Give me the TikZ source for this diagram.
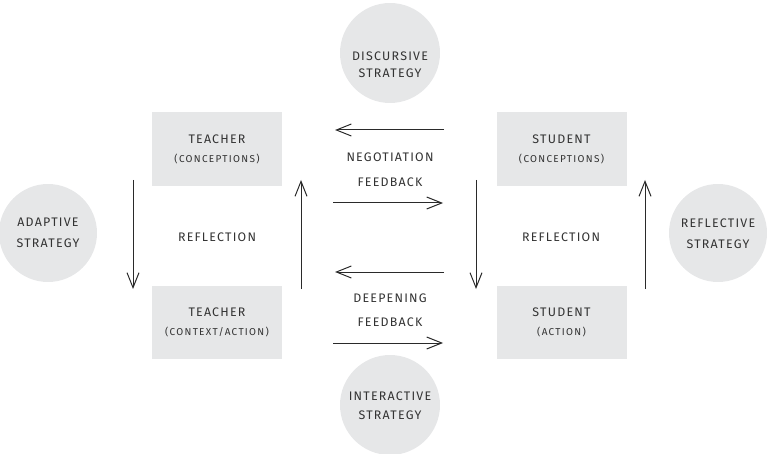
\documentclass[tikz,border=0pt]{standalone}
\usepackage{fontspec}
\setmainfont{Fira Sans}[LetterSpace=10]
\newfontfamily\smallsp{Fira Sans}[LetterSpace=13]
\usetikzlibrary{arrows.meta}
\definecolor{boxgray}{HTML}{E6E7E8}
\definecolor{ink}{HTML}{333333}
\definecolor{arrowink}{HTML}{2A2A2A}
\tikzset{
  stagebox/.style={fill=boxgray, draw=none, minimum width=130pt, minimum height=74pt, inner sep=0pt, align=center, text=ink, font=\fontsize{12.4}{19}\selectfont},
  stratcirc/.style={circle, fill=boxgray, draw=none, minimum size=100pt, inner sep=0pt},
  lbl/.style={text=ink, font=\fontsize{12.4}{13}\selectfont, inner sep=0pt, align=center},
  flow/.style={draw=arrowink, line width=1pt, -{Straight Barb[length=15pt,width=12pt]}}
}
\newcommand{\sm}[1]{{\smallsp\fontsize{10}{11}\selectfont #1}}
\begin{document}
\begin{tikzpicture}[x=1pt,y=-1pt]
\useasboundingbox (0,0) rectangle (767,454);
% strategy circles
\node[stratcirc] (disc) at (390,53) {};
\node[lbl, font=\fontsize{12.4}{17}\selectfont] (disct) at (390,65) {DISCURSIVE\\STRATEGY};
\node[stratcirc, minimum size=98pt] (adap) at (48,233) {};
\node[lbl, font=\fontsize{12.4}{21}\selectfont] (adapt) at (48,233) {ADAPTIVE\\STRATEGY};
\node[stratcirc, minimum size=98pt] (refl) at (718,233) {};
\node[lbl, font=\fontsize{12.4}{21}\selectfont] (reflt) at (718,234) {REFLECTIVE\\STRATEGY};
\node[stratcirc] (inter) at (390,405) {};
\node[lbl, font=\fontsize{12.4}{19}\selectfont] (intert) at (390,406) {INTERACTIVE\\STRATEGY};
% boxes
\node[stagebox] (tc) at (217,149) {TEACHER\\\sm{(CONCEPTIONS)}};
\node[stagebox] (sc) at (561.5,149) {STUDENT\\\sm{(CONCEPTIONS)}};
\node[stagebox, minimum height=73pt] (ta) at (217,322.5) {TEACHER\\\sm{(CONTEXT/ACTION)}};
\node[stagebox, minimum height=73pt] (sa) at (561.5,322.5) {STUDENT\\\sm{(ACTION)}};
% labels
\node[lbl] (neg) at (390,157) {NEGOTIATION};
\node[lbl] (fb1) at (390,182) {FEEDBACK};
\node[lbl] (deep) at (390,298) {DEEPENING};
\node[lbl] (fb2) at (390,322) {FEEDBACK};
\node[lbl] (rl) at (217,237) {REFLECTION};
\node[lbl] (rr) at (561,237) {REFLECTION};
% arrow end points
\coordinate (a1s) at (444,130); \coordinate (a1e) at (335,130);
\coordinate (a2s) at (333,203); \coordinate (a2e) at (443,203);
\coordinate (a3s) at (444,272); \coordinate (a3e) at (335,272);
\coordinate (a4s) at (333,343); \coordinate (a4e) at (443,343);
\coordinate (v1s) at (133,180); \coordinate (v1e) at (133,289);
\coordinate (v2s) at (301,289); \coordinate (v2e) at (301,180);
\coordinate (v3s) at (476,180); \coordinate (v3e) at (476,289);
\coordinate (v4s) at (645,289); \coordinate (v4e) at (645,180);
\draw[flow] (a1s) -- (a1e);
\draw[flow] (a2s) -- (a2e);
\draw[flow] (a3s) -- (a3e);
\draw[flow] (a4s) -- (a4e);
\draw[flow] (v1s) -- (v1e);
\draw[flow] (v2s) -- (v2e);
\draw[flow] (v3s) -- (v3e);
\draw[flow] (v4s) -- (v4e);
\end{tikzpicture}
\end{document}
